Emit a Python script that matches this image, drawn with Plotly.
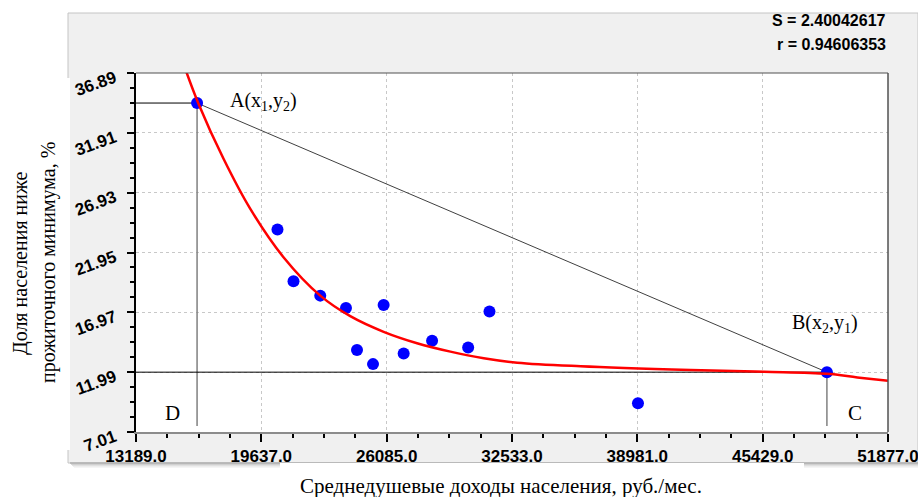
import plotly.graph_objects as go

# ---------------- data ----------------
x_tick_vals = [13189.0, 19637.0, 26085.0, 32533.0, 38981.0, 45429.0, 51877.0]
x_tick_text = ["13189.0", "19637.0", "26085.0", "32533.0", "38981.0", "45429.0", "51877.0"]
y_tick_vals = [7.01, 11.99, 16.97, 21.95, 26.93, 31.91, 36.89]
y_tick_text = ["7.01", "11.99", "16.97", "21.95", "26.93", "31.91", "36.89"]

# observed regions (income, poverty share)
income = [20468, 21292, 22668, 23992, 25929, 24558, 25383, 26959, 28422, 30277, 31374, 39014]
poverty = [23.87, 19.56, 18.36, 17.33, 17.58, 13.83, 12.66, 13.55, 14.61, 14.05, 17.03, 9.41]

# special points A(x1, y2) and B(x2, y1)
point_A = (16331, 34.39)
point_B = (48734, 11.99)
line_bottom = 7.5  # lower end of the vertical guide lines

# fitted regression curve
fit_x = [15713, 16398, 17686, 19062, 20777, 22668, 24213, 25929, 27649, 29365,
         31080, 32801, 36062, 41728, 45500, 48734, 50300, 51877]
fit_y = [37.28, 34.36, 29.77, 25.60, 21.56, 18.36, 16.65, 15.35, 14.40, 13.70,
         13.15, 12.78, 12.48, 12.17, 12.02, 11.85, 11.55, 11.27]

S_value = "2.40042617"
r_value = "0.94606353"

x_title = "Среднедушевые доходы населения, руб./мес."
y_title_1 = "Доля населения ниже"
y_title_2 = "прожиточного минимума, %"

# ---------------- helpers ----------------
W, H = 918, 497


def px(x):
    return x / W


def py(y):
    return 1 - y / H


def minor_between(vals, n=4):
    out = []
    for a, b in zip(vals[:-1], vals[1:]):
        for k in range(1, n):
            out.append(a + (b - a) * k / n)
    return out


fig = go.Figure()

# guide lines
fig.add_trace(go.Scatter(x=[x_tick_vals[0], point_A[0]], y=[point_A[1], point_A[1]],
                         mode="lines", line=dict(color="black", width=1), hoverinfo="skip"))
fig.add_trace(go.Scatter(x=[point_A[0], point_A[0]], y=[point_A[1], line_bottom],
                         mode="lines", line=dict(color="#808080", width=1.5), hoverinfo="skip"))
fig.add_trace(go.Scatter(x=[x_tick_vals[0], point_B[0]], y=[point_B[1], point_B[1]],
                         mode="lines", line=dict(color="black", width=1), hoverinfo="skip"))
fig.add_trace(go.Scatter(x=[point_B[0], point_B[0]], y=[point_B[1], line_bottom],
                         mode="lines", line=dict(color="#808080", width=1.5), hoverinfo="skip"))
fig.add_trace(go.Scatter(x=[point_A[0], point_B[0]], y=[point_A[1], point_B[1]],
                         mode="lines", line=dict(color="#404040", width=1), hoverinfo="skip"))

# markers
fig.add_trace(go.Scatter(x=income + [point_A[0], point_B[0]],
                         y=poverty + [point_A[1], point_B[1]],
                         mode="markers",
                         marker=dict(color="#0000ff", size=12, line=dict(width=0))))

# fitted curve
fig.add_trace(go.Scatter(x=fit_x, y=fit_y, mode="lines",
                         line=dict(color="#ff0000", width=2.5, shape="spline", smoothing=1.0)))

tick_font = dict(family="Liberation Sans, Arial", size=17, color="black", weight="bold")

fig.update_layout(
    width=W, height=H,
    margin=dict(l=0, r=0, t=0, b=0, autoexpand=False),
    paper_bgcolor="white",
    plot_bgcolor="white",
    showlegend=False,
    xaxis=dict(
        domain=[px(136), px(888)], range=[x_tick_vals[0], x_tick_vals[-1]],
        automargin=False, ticklabeloverflow="allow",
        tickmode="array", tickvals=x_tick_vals, ticktext=x_tick_text,
        showline=True, linecolor="#8c8c8c", linewidth=2,
        ticks="outside", ticklen=8, tickwidth=1.5, tickcolor="black",
        minor=dict(tickmode="array", tickvals=minor_between(x_tick_vals), ticks="outside",
                   ticklen=4, tickwidth=1.5, tickcolor="black", showgrid=False),
        showgrid=True, gridcolor="#c8c8c8", griddash="dot", gridwidth=1,
        zeroline=False, tickfont=tick_font, tickangle=0,
    ),
    yaxis=dict(
        domain=[py(432), py(73)], range=[y_tick_vals[0], y_tick_vals[-1]],
        automargin=False, ticklabeloverflow="allow",
        tickmode="array", tickvals=y_tick_vals,
        ticktext=[t + "\u00a0\u00a0" for t in y_tick_text],
        showline=True, linecolor="black", linewidth=2,
        ticks="outside", ticklen=7, tickwidth=1.5, tickcolor="black",
        minor=dict(tickmode="array", tickvals=minor_between(y_tick_vals), ticks="outside",
                   ticklen=4, tickwidth=1.5, tickcolor="black", showgrid=False),
        showgrid=True, gridcolor="#c8c8c8", griddash="dot", gridwidth=1,
        zeroline=False, tickfont=tick_font, tickangle=-20,
    ),
)

shapes = []
# gray panel
shapes.append(dict(type="rect", xref="paper", yref="paper", layer="below",
                   x0=px(68), x1=px(918), y0=py(463), y1=py(13),
                   fillcolor="#f0f0f0", line=dict(color="#c4c4c4", width=1)))
# bottom shadow
for i, c in enumerate(["#9a9a9a", "#b0b0b0", "#c8c8c8", "#dcdcdc", "#ececec"]):
    shapes.append(dict(type="line", xref="paper", yref="paper", layer="below",
                       x0=px(70 + i), x1=px(918), y0=py(463 + i), y1=py(463 + i),
                       line=dict(color=c, width=1)))
# white boxes for axis titles
shapes.append(dict(type="rect", xref="paper", yref="paper", layer="below",
                   x0=px(0), x1=px(70), y0=py(450), y1=py(78),
                   fillcolor="white", line=dict(width=0)))
shapes.append(dict(type="rect", xref="paper", yref="paper", layer="below",
                   x0=px(280), x1=px(804), y0=py(497), y1=py(463),
                   fillcolor="white", line=dict(width=0)))
# plot area background
shapes.append(dict(type="rect", xref="paper", yref="paper", layer="below",
                   x0=px(136), x1=px(888), y0=py(432), y1=py(73),
                   fillcolor="white", line=dict(width=0)))
# top and right frame
shapes.append(dict(type="line", xref="paper", yref="paper",
                   x0=px(136), x1=px(888), y0=py(73), y1=py(73),
                   line=dict(color="#505050", width=1.2)))
shapes.append(dict(type="line", xref="paper", yref="paper",
                   x0=px(888), x1=px(888), y0=py(432), y1=py(73),
                   line=dict(color="#505050", width=1.5)))
fig.update_layout(shapes=shapes)

serif = "Liberation Serif, Times New Roman, serif"
ann = []
ann.append(dict(text="S = " + S_value, x=px(888), y=py(21), xanchor="right", yanchor="middle",
                font=dict(family="Liberation Sans, Arial", size=16, color="black", weight="bold")))
ann.append(dict(text="r = " + r_value, x=px(888), y=py(44), xanchor="right", yanchor="middle",
                font=dict(family="Liberation Sans, Arial", size=16, color="black", weight="bold")))
ann.append(dict(text=x_title, x=px(501), y=py(486), xanchor="center", yanchor="middle",
                font=dict(family=serif, size=21, color="black")))
ann.append(dict(text=y_title_1, x=px(20), y=py(263), xanchor="center", yanchor="middle",
                textangle=-90, font=dict(family=serif, size=20, color="black")))
ann.append(dict(text=y_title_2, x=px(48), y=py(263), xanchor="center", yanchor="middle",
                textangle=-90, font=dict(family=serif, size=20, color="black")))
ann.append(dict(text="A(x<sub>1</sub>,y<sub>2</sub>)", x=px(228), y=py(101), xanchor="left",
                yanchor="middle", font=dict(family=serif, size=20, color="black")))
ann.append(dict(text="B(x<sub>2</sub>,y<sub>1</sub>)", x=px(790), y=py(323), xanchor="left",
                yanchor="middle", font=dict(family=serif, size=20, color="black")))
ann.append(dict(text="D", x=px(172), y=py(413), xanchor="center", yanchor="middle",
                font=dict(family=serif, size=21, color="black")))
ann.append(dict(text="C", x=px(855), y=py(413), xanchor="center", yanchor="middle",
                font=dict(family=serif, size=21, color="black")))
for a in ann:
    a.update(xref="paper", yref="paper", showarrow=False)
fig.update_layout(annotations=ann)

fig.write_html("out.html")
